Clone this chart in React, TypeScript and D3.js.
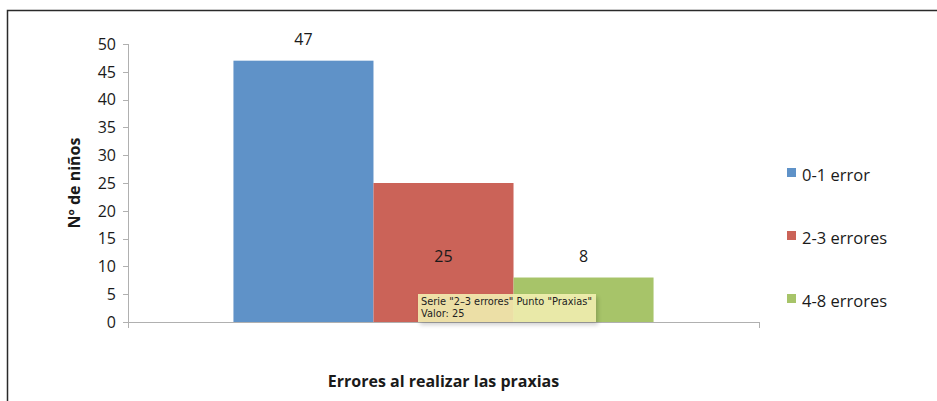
import React, { useEffect, useRef } from 'react';
import * as d3 from 'd3';

// chart data
const category = ['Praxias'];
const seriesNames = ['0-1 error', '2-3 errores', '4-8 errores'];
const seriesValues = [47, 25, 8];
// level (in data units) that each value label sits above, as placed in the original
const labelLevels = [47, 8, 8];
const seriesColors = ['#5f92c8', '#cb6358', '#a7c469'];
const yTicks = [0, 5, 10, 15, 20, 25, 30, 35, 40, 45, 50];

const W = 937;
const H = 401;
const FONT = '"Open Sans", "Liberation Sans", sans-serif';

function App() {
    const ref = useRef<SVGSVGElement | null>(null);

    useEffect(() => {
        drawChart();
    }, []);

    function drawChart() {
        const svg = d3.select(ref.current);
        svg.selectAll('*').remove();

        // outer chart frame (only top and left visible)
        svg.append('rect')
            .attr('x', 7.5).attr('y', 10.5)
            .attr('width', W + 20).attr('height', H + 20)
            .attr('fill', '#fff')
            .attr('stroke', '#2a2a2a')
            .attr('stroke-width', 1.5);

        const plot = { left: 128, right: 759, top: 44, bottom: 322 };

        const x = d3.scaleBand<string>()
            .domain(category)
            .range([plot.left, plot.right])
            .paddingOuter(0.251);

        const xs = d3.scaleBand<string>()
            .domain(seriesNames)
            .range([0, x.bandwidth()]);

        const y = d3.scaleLinear()
            .domain([0, 50])
            .range([plot.bottom, plot.top]);

        // y axis
        const yAxis = svg.append('g').attr('transform', `translate(${plot.left},0)`);
        yAxis.append('line')
            .attr('x1', 0.5).attr('x2', 0.5)
            .attr('y1', y(50)).attr('y2', y(0))
            .attr('stroke', '#b0b0b0');
        yAxis.selectAll('.tk')
            .data(yTicks)
            .enter()
            .append('line')
            .attr('x1', -5).attr('x2', 0.5)
            .attr('y1', (d) => Math.round(y(d)) + 0.5)
            .attr('y2', (d) => Math.round(y(d)) + 0.5)
            .attr('stroke', '#b0b0b0');
        yAxis.selectAll('.tl')
            .data(yTicks)
            .enter()
            .append('text')
            .attr('x', -12)
            .attr('y', (d) => y(d))
            .attr('dy', '0.36em')
            .attr('text-anchor', 'end')
            .attr('font-family', FONT)
            .attr('font-size', 16)
            .attr('fill', '#1a1a1a')
            .text((d) => d);

        // bars
        const g = svg.append('g').attr('transform', `translate(${x(category[0])},0)`);
        g.selectAll('rect')
            .data(seriesValues)
            .enter()
            .append('rect')
            .attr('x', (_, i) => xs(seriesNames[i]) as number)
            .attr('y', (d) => y(d))
            .attr('width', xs.bandwidth())
            .attr('height', (d) => y(0) - y(d))
            .attr('fill', (_, i) => seriesColors[i]);

        // x axis
        svg.append('line')
            .attr('x1', plot.left).attr('x2', plot.right)
            .attr('y1', y(0) + 0.5).attr('y2', y(0) + 0.5)
            .attr('stroke', '#b0b0b0');
        svg.selectAll('.xt')
            .data([plot.left, plot.right])
            .enter()
            .append('line')
            .attr('x1', (d) => d + 0.5).attr('x2', (d) => d + 0.5)
            .attr('y1', y(0)).attr('y2', y(0) + 6)
            .attr('stroke', '#b0b0b0');

        // value labels
        g.selectAll('.vl')
            .data(seriesValues)
            .enter()
            .append('text')
            .attr('x', (_, i) => (xs(seriesNames[i]) as number) + xs.bandwidth() / 2)
            .attr('y', (_, i) => y(labelLevels[i]) - 21)
            .attr('dy', '0.36em')
            .attr('text-anchor', 'middle')
            .attr('font-family', FONT)
            .attr('font-size', 16)
            .attr('fill', '#1a1a1a')
            .text((d) => d);

        // axis titles
        svg.append('text')
            .attr('transform', `translate(80, ${(plot.top + plot.bottom) / 2 + 0}) rotate(-90)`)
            .attr('text-anchor', 'middle')
            .attr('font-family', FONT)
            .attr('font-size', 16)
            .attr('font-weight', 'bold')
            .attr('fill', '#1a1a1a')
            .text('Nº de niños');

        svg.append('text')
            .attr('x', (plot.left + plot.right) / 2)
            .attr('y', 387)
            .attr('text-anchor', 'middle')
            .attr('font-family', FONT)
            .attr('font-size', 16)
            .attr('font-weight', 'bold')
            .attr('fill', '#1a1a1a')
            .text('Errores al realizar las praxias');

        // legend
        const legend = svg.append('g')
            .selectAll('g')
            .data(seriesNames)
            .enter()
            .append('g')
            .attr('transform', (_, i) => `translate(787, ${176 + i * 63})`);
        legend.append('rect')
            .attr('x', 0).attr('y', -8)
            .attr('width', 9).attr('height', 9)
            .attr('fill', (_, i) => seriesColors[i]);
        legend.append('text')
            .attr('x', 15).attr('y', 0)
            .attr('dy', '0.3em')
            .attr('font-family', FONT)
            .attr('font-size', 16.5)
            .attr('fill', '#1a1a1a')
            .text((d) => d);

        // tooltip left over from the screenshot
        const tip = svg.append('g').attr('transform', `translate(418, 294)`);
        tip.append('rect')
            .attr('x', 2).attr('y', 3)
            .attr('width', 178).attr('height', 28)
            .attr('fill', '#000')
            .attr('opacity', 0.18)
            .style('filter', 'blur(2px)');
        tip.append('rect')
            .attr('width', 178).attr('height', 28)
            .attr('fill', '#f6f3b4')
            .attr('opacity', 0.88);
        tip.append('text')
            .attr('x', 3).attr('y', 11)
            .attr('font-family', '"DejaVu Sans", sans-serif')
            .attr('font-size', 9.8)
            .attr('fill', '#222')
            .text('Serie "2\u20133 errores" Punto "Praxias"');
        tip.append('text')
            .attr('x', 3).attr('y', 23)
            .attr('font-family', '"DejaVu Sans", sans-serif')
            .attr('font-size', 9.8)
            .attr('fill', '#222')
            .text('Valor: ' + seriesValues[1]);
    }

    return (
        <svg
            ref={ref}
            width={W}
            height={H}
            style={{ position: 'absolute', left: 0, top: 0, background: '#fff' }}
        />
    );
}

export default App;
